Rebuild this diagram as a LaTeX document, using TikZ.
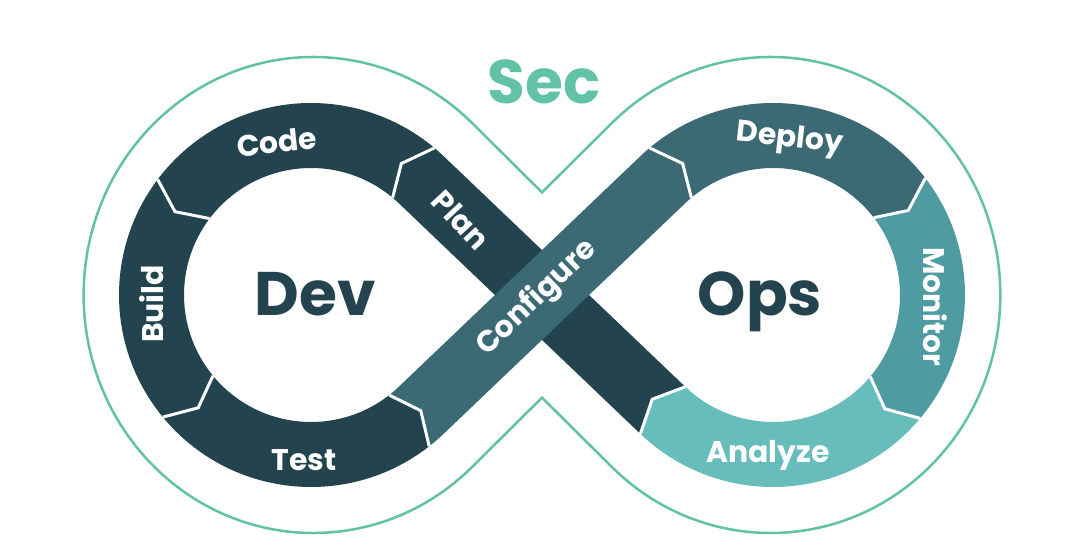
\documentclass[tikz,border=0pt]{standalone}
\usepackage{fontspec}
\setmainfont{Poppins}
\usetikzlibrary{calc}
\definecolor{devdark}{HTML}{23444F}
\definecolor{opsmid}{HTML}{3B6A75}
\definecolor{opsteal}{HTML}{4F9BA2}
\definecolor{opslight}{HTML}{67BDBC}
\definecolor{secgreen}{HTML}{62C2A6}
\newcommand{\Ro}{192}
\newcommand{\Ri}{127}
\newcommand{\Rm}{159.5}
% ring piece: centre, start angle, end angle, tip offset, colour
\newcommand{\ringpiece}[5]{%
  \pgfmathsetmacro\tipang{#3+#4}\pgfmathsetmacro\notchang{#2+#4}%
  \fill[#5] ([shift={(#2:\Ro)}]#1) arc[start angle=#2, end angle=#3, radius=\Ro]
    -- ([shift={(\tipang:\Rm)}]#1) -- ([shift={(#3:\Ri)}]#1)
    arc[start angle=#3, end angle=#2, radius=\Ri]
    -- ([shift={(\notchang:\Rm)}]#1) -- cycle;}
% white chevron between two pieces: centre, angle, tip offset
\newcommand{\sepline}[3]{%
  \pgfmathsetmacro\tipang{#2+#3}%
  \draw[white, line width=0.06cm] ([shift={(#2:\Ro)}]#1) -- ([shift={(\tipang:\Rm)}]#1) -- ([shift={(#2:\Ri)}]#1);}

\begin{document}
\begin{tikzpicture}[x=0.02cm, y=0.02cm,
  stage/.style={text=white, font=\bfseries\fontsize{17}{20}\selectfont, inner sep=0pt},
  big/.style={text=devdark, font=\bfseries\fontsize{35}{40}\selectfont, inner sep=0pt}]
  \fill[white] (0,0) rectangle (1080,559);
  \useasboundingbox (0,0) rectangle (1080,559);
  \coordinate (dev) at (311,264);
  \coordinate (ops) at (773,264);
  % outline
  \begin{scope}[shift={(540,264)}, xscale=0.99, yscale=1.026, shift={(-540,-264)}]
    \draw[secgreen, line width=0.05cm] (542,364) -- ([shift={(133.7:232)}]773,264)
      arc[start angle=133.7, end angle=-133.7, radius=232] -- (542,164)
      -- ([shift={(-46.3:232)}]311,264) arc[start angle=-46.3, end angle=-313.7, radius=232] -- cycle;
  \end{scope}
  % plan band, under
  \fill[devdark] ([shift={(226.3:\Ro)}]ops) -- ([shift={(46.3:\Ri)}]dev)
    arc[start angle=46.3, end angle=50, radius=\Ri] -- ([shift={(55.5:\Rm)}]dev)
    -- ([shift={(50:\Ro)}]dev) arc[start angle=50, end angle=46.3, radius=\Ro]
    -- ([shift={(226.3:\Ri)}]ops) -- ([shift={(220.8:\Rm)}]ops) -- cycle;
  % configure band, over
  \fill[opsmid] ([shift={(-52:\Ro)}]dev) arc[start angle=-52, end angle=-46.3, radius=\Ro]
    -- ([shift={(133.7:\Ri)}]ops) arc[start angle=133.7, end angle=130, radius=\Ri]
    -- ([shift={(124.5:\Rm)}]ops) -- ([shift={(130:\Ro)}]ops)
    arc[start angle=130, end angle=133.7, radius=\Ro] -- ([shift={(-46.3:\Ri)}]dev)
    arc[start angle=-46.3, end angle=-52, radius=\Ri] -- ([shift={(-46.5:\Rm)}]dev) -- cycle;
  % ring pieces
  \ringpiece{dev}{50}{143}{5.5}{devdark}
  \ringpiece{dev}{143}{219.5}{5.5}{devdark}
  \ringpiece{dev}{219.5}{308}{5.5}{devdark}
  \ringpiece{ops}{130}{37.5}{-5.5}{opsmid}
  \ringpiece{ops}{37.5}{-40}{-5.5}{opsteal}
  \ringpiece{ops}{-40}{-133.7}{-5.5}{opslight}
  \foreach \a in {50,143,219.5,308} \sepline{dev}{\a}{5.5};
  \foreach \a in {130,37.5,-40,-133.7} \sepline{ops}{\a}{-5.5};
  % labels
  \node[big, text=secgreen] (sec) at (544,477) {Sec};
  \node[big, anchor=base] (devlbl) at (315,244) {Dev};
  \node[big, anchor=base] (opslbl) at (760,244) {Ops};
  \node[stage, rotate=6.5] (code) at (277,417) {Code};
  \node[stage, rotate=90] (build) at (152,255) {Build};
  \node[stage] (test) at (304,98.5) {Test};
  \node[stage, rotate=-47] (plan) at (461,339) {Plan};
  \node[stage, rotate=44] (configure) at (537,261) {Configure};
  \node[stage, rotate=-6.5] (deploy) at (790,419) {Deploy};
  \node[stage, rotate=-90] (monitor) at (935,252) {Monitor};
  \node[stage] (analyze) at (768,104) {Analyze};
\end{tikzpicture}
\end{document}
